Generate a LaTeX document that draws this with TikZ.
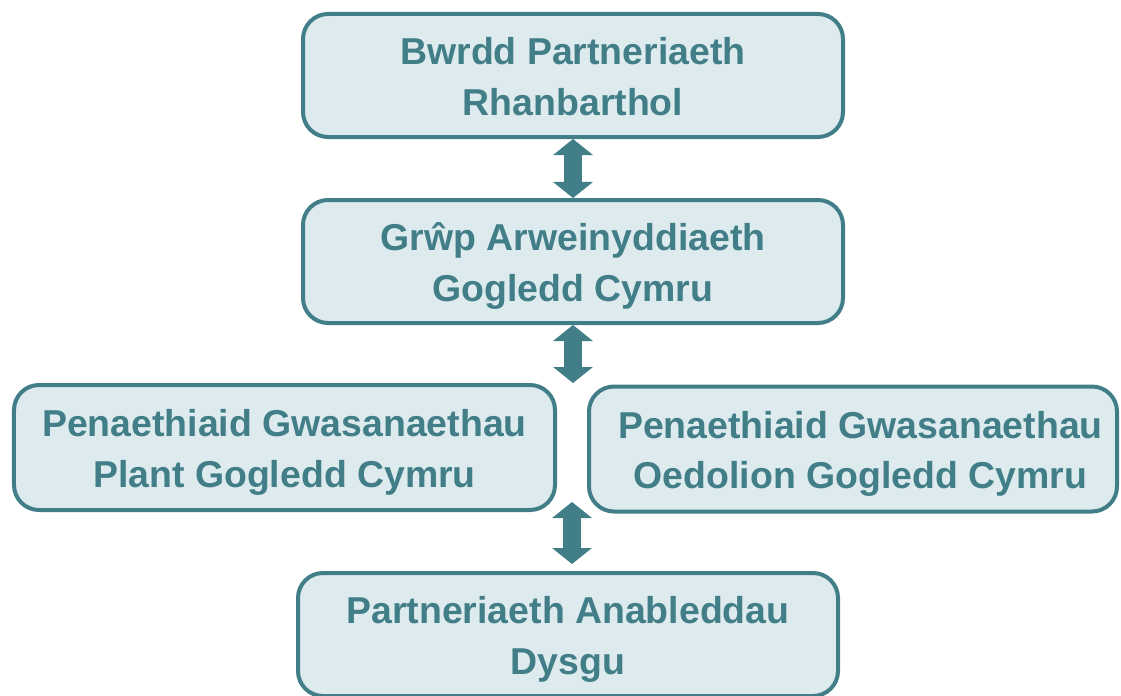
\documentclass[tikz,border=0pt]{standalone}
\usepackage{fontspec}
\setmainfont{Liberation Sans}
\usetikzlibrary{arrows.meta,calc}
\definecolor{tealline}{HTML}{427E87}
\definecolor{tealfill}{HTML}{DDEAEE}

\begin{document}
\begin{tikzpicture}

    \tikzset{
      box/.style={
        draw=tealline,
        fill=tealfill,
        line width=0.08cm,
        rounded corners=0.5cm,
        align=center,
        text=tealline,
        font=\fontsize{21.3}{28.5}\selectfont\bfseries,
        text height=45pt,
        text depth=0pt,
        minimum width=10.8cm,
        minimum height=2.46cm,
      },
      link/.style={
        draw=tealline,
        line width=0.36cm,
        {Triangle[length=0.32cm,width=0.78cm]}-{Triangle[length=0.32cm,width=0.78cm]},
      },
    }
    \clip (0,0) rectangle (22.42,13.9);
	\node[box] (bwrdd) at (11.46,12.39) {Bwrdd Partneriaeth\\Rhanbarthol};
	\node[box] (grwp) at (11.46,8.67) {Grŵp Arweinyddiaeth\\Gogledd Cymru};
	\node[box,minimum width=10.82cm,minimum height=2.5cm] (plant) at (5.69,4.95) {Penaethiaid Gwasanaethau\\Plant Gogledd Cymru};
	\node[box,minimum width=10.56cm,minimum height=2.5cm] (oedolion) at (17.06,4.92) {\hspace*{0.3cm}Penaethiaid Gwasanaethau\\\hspace*{0.3cm}Oedolion Gogledd Cymru};
	\node[box] (anabledd) at (11.36,1.21) {Partneriaeth Anableddau\\Dysgu};
	\draw[link] (bwrdd.south) -- (grwp.north);
	\draw[link] (grwp.south) -- (grwp.south |- plant.north);
	\draw[link,shorten <=-0.2cm,shorten >=0.14cm] ($(anabledd.north |- plant.south)+(0.08,0)$) -- ($(anabledd.north)+(0.08,0)$);

\end{tikzpicture}
\end{document}
